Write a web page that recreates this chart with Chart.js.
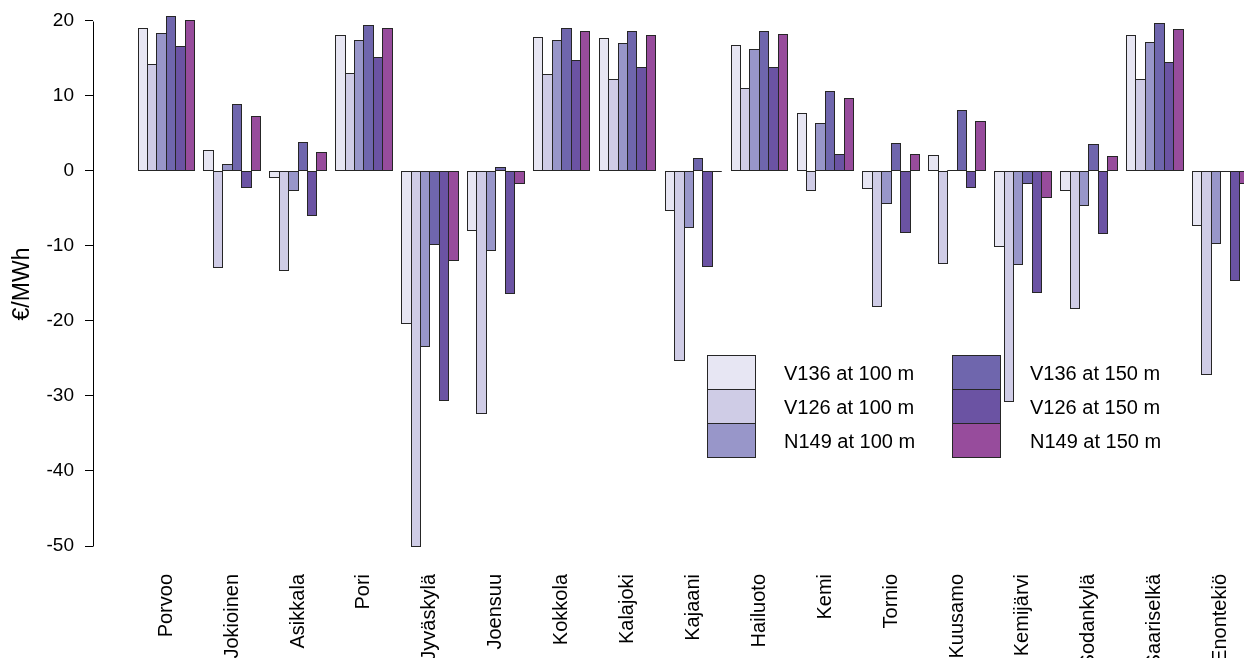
<!DOCTYPE html>
<html>
<head>
<meta charset="utf-8">
<script src="https://cdn.jsdelivr.net/npm/chart.js@4.4.1/dist/chart.umd.min.js"></script>
<style>
  html, body { margin: 0; padding: 0; background: #fff; overflow: hidden; }
  #wrap { width: 1244px; height: 658px; position: relative; }
</style>
</head>
<body>
<div id="wrap"><canvas id="c" width="1244" height="658"></canvas></div>
<script>
// Weather stations (x axis)
const categories = ['Porvoo', 'Jokioinen', 'Asikkala', 'Pori', 'Jyväskylä', 'Joensuu', 'Kokkola',
  'Kalajoki', 'Kajaani', 'Hailuoto', 'Kemi', 'Tornio', 'Kuusamo', 'Kemijärvi', 'Sodankylä',
  'Saariselkä', 'Enontekiö'];

// €/MWh per station, one array per turbine / hub height
const v136At100 = [19.0, 2.7, -0.9, 18.0, -20.4, -8.0, 17.8, 17.6, -5.3, 16.7, 7.6, -2.3, 2.1, -10.1, -2.6, 18.0, -7.3];
const v126At100 = [14.2, -12.9, -13.3, 13.0, -50.0, -32.3, 12.8, 12.1, -25.3, 11.0, -2.6, -18.1, -12.4, -30.8, -18.4, 12.1, -27.1];
const n149At100 = [18.3, 0.8, -2.6, 17.4, -23.4, -10.6, 17.3, 16.9, -7.6, 16.1, 6.3, -4.3, 0.1, -12.5, -4.6, 17.1, -9.7];
const v136At150 = [20.6, 8.8, 3.8, 19.4, -9.8, 0.4, 19.0, 18.6, 1.7, 18.6, 10.6, 3.6, 8.0, -1.7, 3.5, 19.6, -0.1];
const v126At150 = [16.5, -2.2, -6.0, 15.1, -30.6, -16.4, 14.7, 13.7, -12.8, 13.8, 2.2, -8.2, -2.2, -16.2, -8.3, 14.4, -14.6];
const n149At150 = [20.0, 7.3, 2.5, 19.0, -11.9, -1.7, 18.6, 18.0, -0.1, 18.1, 9.6, 2.2, 6.6, -3.6, 1.9, 18.8, -1.7];

const seriesLabels = ['V136 at 100 m', 'V126 at 100 m', 'N149 at 100 m',
                      'V136 at 150 m', 'V126 at 150 m', 'N149 at 150 m'];
const seriesColors = ['#e7e6f3', '#cfcce6', '#9896c9', '#6f66ad', '#6b53a3', '#974c9c'];

// y-axis tick labels
const yTickValues = [20, 10, 0, -10, -20, -30, -40, -50];

const FONT = "'Liberation Sans', Arial, Helvetica, sans-serif";
const EDGE = '#262626';

const seriesValues = [v136At100, v126At100, n149At100, v136At150, v126At150, n149At150];

const datasets = seriesValues.map((vals, k) => ({
  label: seriesLabels[k],
  data: vals.map((v, i) => ({ x: i, y: v })),
  backgroundColor: seriesColors[k],
  borderWidth: 0,
  inflateAmount: 0,
  categoryPercentage: 6 / 7,
  barPercentage: 1
}));

// Pixel-snapped 1px outlines around every bar, so neighbouring bars share one edge
const barOutlines = {
  id: 'barOutlines',
  afterDatasetsDraw(chart) {
    const ctx = chart.ctx;
    ctx.save();
    ctx.strokeStyle = EDGE;
    ctx.lineWidth = 1;
    chart.data.datasets.forEach((ds, k) => {
      chart.getDatasetMeta(k).data.forEach(bar => {
        const { x, y, base, width } = bar.getProps(['x', 'y', 'base', 'width'], true);
        const L = Math.floor(x - width / 2);
        const R = Math.ceil(x + width / 2) - 1;
        const T = Math.floor(Math.min(y, base));
        const B = Math.max(Math.ceil(Math.max(y, base)) - 1, T);
        ctx.strokeRect(L + 0.5, T + 0.5, R - L, B - T);
      });
    });
    ctx.restore();
  }
};

// Vertical axis line spanning only the labelled range
const yAxisLine = {
  id: 'yAxisLine',
  afterDraw(chart) {
    const ys = chart.scales.y;
    const ctx = chart.ctx;
    const x = Math.round(chart.chartArea.left) + 0.5;
    const yTop = Math.round(ys.getPixelForValue(yTickValues[0])) + 0.5;
    const yBot = Math.round(ys.getPixelForValue(yTickValues[yTickValues.length - 1])) + 0.5;
    ctx.save();
    ctx.strokeStyle = '#000';
    ctx.lineWidth = 1;
    ctx.beginPath();
    ctx.moveTo(x, yTop);
    ctx.lineTo(x, yBot);
    ctx.stroke();
    ctx.restore();
  }
};

// Two-column legend with stacked swatches
const stackedLegend = {
  id: 'stackedLegend',
  afterDraw(chart) {
    const ctx = chart.ctx;
    const columns = [
      { boxX: 707, textX: 784, items: [0, 1, 2] },
      { boxX: 952, textX: 1030, items: [3, 4, 5] }
    ];
    const top = 355, boxW = 48, boxH = 34;
    ctx.save();
    ctx.font = '20px ' + FONT;
    ctx.textBaseline = 'middle';
    ctx.textAlign = 'left';
    columns.forEach(col => col.items.forEach((dsIndex, row) => {
      const ds = chart.data.datasets[dsIndex];
      const y = top + row * boxH;
      ctx.fillStyle = ds.backgroundColor;
      ctx.fillRect(col.boxX, y, boxW, boxH);
      ctx.strokeStyle = EDGE;
      ctx.lineWidth = 1;
      ctx.strokeRect(col.boxX + 0.5, y + 0.5, boxW, boxH);
      ctx.fillStyle = '#000';
      ctx.fillText(ds.label, col.textX, y + boxH / 2 + 2);
    }));
    ctx.restore();
  }
};

new Chart(document.getElementById('c'), {
  type: 'bar',
  data: { datasets },
  options: {
    responsive: false,
    animation: false,
    devicePixelRatio: 1,
    layout: { padding: 0, autoPadding: false },
    plugins: {
      legend: { display: false },
      tooltip: { enabled: false },
      title: { display: false }
    },
    scales: {
      x: {
        type: 'linear',
        offset: false,
        bounds: 'data',
        min: -1.112,
        max: 16.354,
        grid: { display: false, drawTicks: false },
        border: { display: false },
        afterBuildTicks: s => { s.ticks = categories.map((_, i) => ({ value: i })); },
        ticks: {
          autoSkip: false,
          minRotation: 90,
          maxRotation: 90,
          padding: 6,
          color: '#000',
          font: { family: FONT, size: 20 },
          callback: v => categories[v] ?? ''
        },
        afterFit: s => {
          s.height = 90;
          s.paddingLeft = 0; s.paddingRight = 0; s.paddingTop = 0; s.paddingBottom = 0;
        }
      },
      y: {
        type: 'linear',
        bounds: 'data',
        min: -52.93,
        max: 22.76,
        afterBuildTicks: s => { s.ticks = yTickValues.map(v => ({ value: v })); },
        grid: { display: true, drawOnChartArea: false, drawTicks: true, tickLength: 8, color: '#000', lineWidth: 1 },
        border: { display: false },
        ticks: {
          padding: 11,
          color: '#000',
          font: { family: FONT, size: 19 },
          callback: v => String(v)
        },
        title: {
          display: true,
          text: '€/MWh',
          color: '#000',
          font: { family: FONT, size: 23 },
          padding: { top: 9, bottom: 0 }
        },
        afterFit: s => {
          s.width = 93;
          s.paddingTop = 0; s.paddingBottom = 0; s.paddingLeft = 0; s.paddingRight = 0;
        }
      }
    }
  },
  plugins: [barOutlines, yAxisLine, stackedLegend]
});
</script>
</body>
</html>
